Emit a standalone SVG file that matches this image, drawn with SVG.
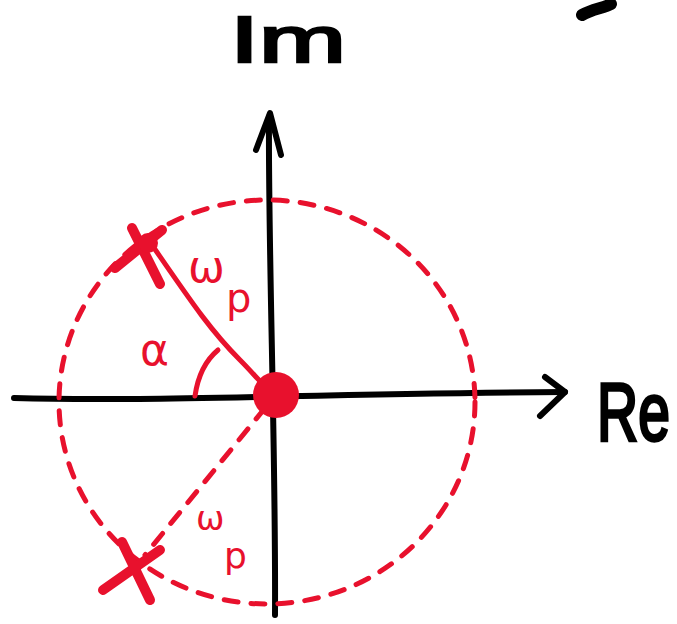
<svg xmlns="http://www.w3.org/2000/svg" width="677" height="624" viewBox="0 0 677 624">
<style>
.ax{fill:none;stroke:#000;stroke-width:6;stroke-linecap:round;stroke-linejoin:round}
.rd{fill:none;stroke:#e8112d;stroke-width:5;stroke-linecap:round;stroke-linejoin:round}
.dash{stroke-dasharray:14 13}
.cross{fill:none;stroke:#e8112d;stroke-width:10;stroke-linecap:round}
.lbk{font-family:"Liberation Sans",Arial,sans-serif;fill:#000;stroke:#000;stroke-width:2.5}
.lrd{font-family:"DejaVu Sans","Liberation Sans",sans-serif;fill:#e8112d}
</style>
<rect width="677" height="624" fill="#fff"/>
<g id="axes">
  <path class="ax" d="M14,398 C150,402 300,394 565,392"/>
  <path class="ax" d="M545,377 L565,392 L540,416"/>
  <path class="ax" d="M269,117 C268,250 276,450 275,615"/>
  <path class="ax" d="M256,150 L270,113 L281,155"/>
</g>
<g id="labels">
  <text class="lbk" x="230" y="62" font-size="64" textLength="116" lengthAdjust="spacingAndGlyphs">Im</text>
  <text class="lbk" transform="translate(597,440) scale(0.95,1.35)" font-size="60">Re</text>
  <path d="M582,15 C592,9 604,8 611,4" fill="none" stroke="#000" stroke-width="12" stroke-linecap="round"/>
</g>
<g id="circle">
  <ellipse class="rd dash" cx="267" cy="402" rx="208" ry="202"/>
</g>
<g id="connectors">
  <path class="rd" d="M152,245 C190,300 210,330 240,360 C255,375 262,385 270,390"/>
  <path class="rd dash" d="M265,408 L145,555"/>
  <path class="rd" d="M195,396 C198,375 206,360 218,350"/>
</g>
<g id="pole-top">
  <path class="cross" d="M115,268 L162,230 M132,228 L160,284"/>
  <circle cx="148" cy="243" r="10" fill="#e8112d"/>
</g>
<g id="pole-bottom">
  <path class="cross" d="M103,590 L160,550 M122,542 L150,600"/>
</g>
<g id="origin">
  <circle cx="276" cy="395" r="23" fill="#e8112d"/>
</g>
<g id="pole-labels">
  <text class="lrd" x="188" y="282" font-size="44">ω</text>
  <text class="lrd" x="226" y="312" font-size="40">p</text>
  <text class="lrd" x="140" y="365" font-size="44">α</text>
  <text class="lrd" x="196" y="530" font-size="34">ω</text>
  <text class="lrd" x="224" y="568" font-size="36">p</text>
</g>
</svg>
